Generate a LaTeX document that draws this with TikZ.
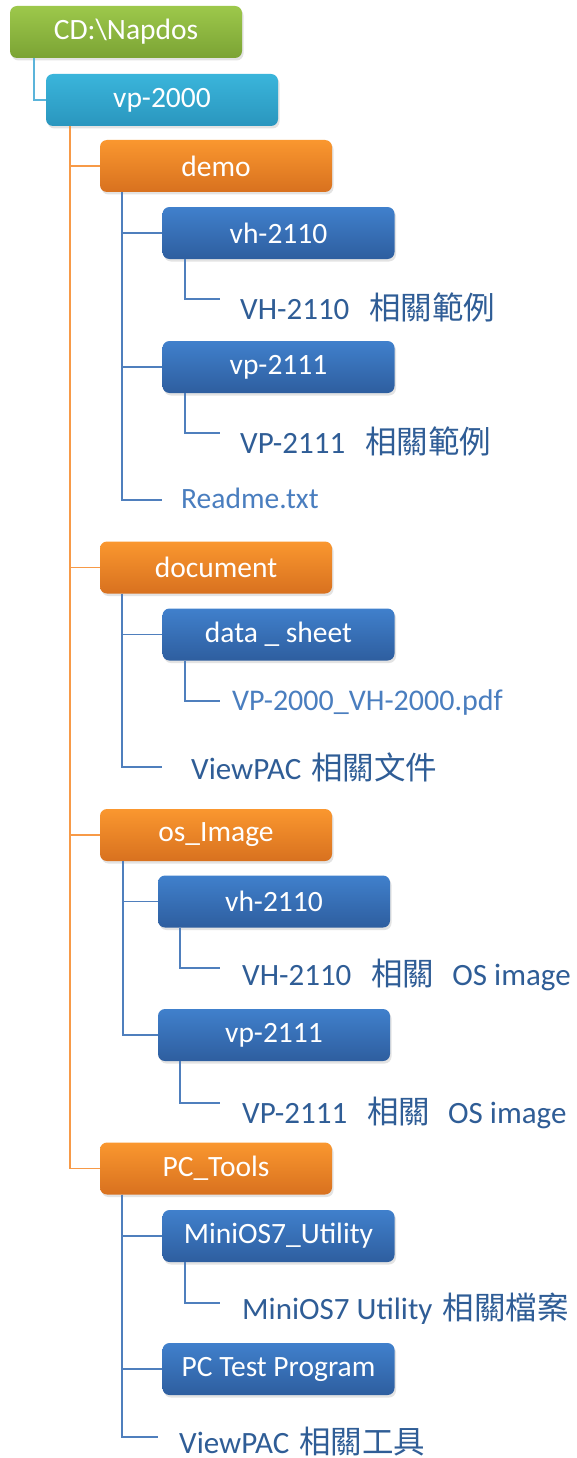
\documentclass[tikz,border=0pt]{standalone}
\usepackage{fontspec}
\setmainfont{Carlito}
\newfontfamily\cjk{Noto Sans CJK TC}
\newcommand\cj[1]{{\cjk\fontsize{31.5}{31.5}\selectfont #1}}
\usetikzlibrary{shadows}
\definecolor{gtop}{HTML}{9DC84B}
\definecolor{gbot}{HTML}{7BA334}
\definecolor{ctop}{HTML}{3AB5DB}
\definecolor{cbot}{HTML}{2A96BE}
\definecolor{otop}{HTML}{FA972F}
\definecolor{obot}{HTML}{D8711F}
\definecolor{btop}{HTML}{4080CC}
\definecolor{bbot}{HTML}{2E5E9F}
\definecolor{lbl}{HTML}{2F5D96}
\definecolor{lbllight}{HTML}{4A7EBF}
\definecolor{lorange}{HTML}{F79A47}
\definecolor{lblue}{HTML}{4F7FBD}
\definecolor{lcyan}{HTML}{5BB4DA}
\tikzset{
  box/.style={rounded corners=7pt, minimum width=232pt, minimum height=52pt,
    inner sep=0pt, text=white, font=\fontsize{29.5}{29.5}\selectfont,
    drop shadow={opacity=0.22, shadow xshift=1.5pt, shadow yshift=-2.5pt}},
  gbox/.style={box, top color=gtop, bottom color=gbot},
  cbox/.style={box, top color=ctop, bottom color=cbot},
  obox/.style={box, top color=otop, bottom color=obot},
  bbox/.style={box, top color=btop, bottom color=bbot},
  lab/.style={anchor=base west, inner sep=0pt, text=lbl, font=\fontsize{31}{31}\selectfont},
  lablight/.style={lab, text=lbllight},
  cline/.style={draw=lcyan, line width=1.8pt},
  oline/.style={draw=lorange, line width=1.8pt},
  bline/.style={draw=lblue, line width=1.8pt}
}
\begin{document}
\begin{tikzpicture}[x=1pt,y=-1pt]
\useasboundingbox (0,0) rectangle (576,1458);
\fill[white] (0,0) rectangle (576,1458);

% boxes
\node[gbox] (nap) at (126,32) {CD:\textbackslash Napdos};
\node[cbox] (vp) at (162,100) {vp-2000};
\node[obox] (demo) at (216,166) {demo};
\node[bbox] (vh1) at (278.5,233) {vh-2110};
\node[bbox] (vp1) at (278.5,367) {vp-2111};
\node[obox] (docu) at (216,567.5) {document};
\node[bbox] (ds) at (278.5,634.5) {data \_ sheet};
\node[obox] (os) at (216,835) {os\_Image};
\node[bbox] (vh2) at (274,901.5) {vh-2110};
\node[bbox] (vp2) at (274,1035) {vp-2111};
\node[obox] (pct) at (216,1168.5) {PC\_Tools};
\node[bbox] (mu) at (278.5,1236) {MiniOS7\_Utility};
\node[bbox] (pt) at (278.5,1369) {PC Test Program};

% labels
\node[lab] (t1) at (240,319) {VH-2110\hspace{20pt}\cj{相關範例}};
\node[lab] (t2) at (240,453) {VP-2111\hspace{20pt}\cj{相關範例}};
\node[lablight, font=\fontsize{29.5}{29.5}\selectfont] (rd) at (181,508) {Readme.txt};
\node[lablight, font=\fontsize{30}{30}\selectfont] (pdf) at (232,710) {VP-2000\_VH-2000.pdf};
\node[lab] (vdoc) at (191,779) {ViewPAC\hspace{10pt}\cj{相關文件}};
\node[lab] (t3) at (242,985) {VH-2110\hspace{20pt}\cj{相關}\hspace{18pt}OS image};
\node[lab] (t4) at (242,1123) {VP-2111\hspace{20pt}\cj{相關}\hspace{18pt}OS image};
\node[lab] (t5) at (242,1319) {MiniOS7 Utility\hspace{10pt}\cj{相關檔案}};
\node[lab] (vtool) at (179,1453) {ViewPAC\hspace{10pt}\cj{相關工具}};

% connectors
\draw[cline] ([xshift=24pt]nap.south west) |- (vp.west);
\draw[oline] ([xshift=24pt]vp.south west) |- (demo.west);
\draw[oline] ([xshift=24pt]vp.south west) |- (docu.west);
\draw[oline] ([xshift=24pt]vp.south west) |- (os.west);
\draw[oline] ([xshift=24pt]vp.south west) |- (pct.west);

\draw[bline] ([xshift=22.5pt]demo.south west) |- (vh1.west);
\draw[bline] ([xshift=22.5pt]demo.south west) |- (vp1.west);
\draw[bline] ([xshift=22.5pt]demo.south west) |- ([xshift=-19pt,yshift=8pt]rd.base west);
\draw[bline] ([xshift=23pt]vh1.south west) |- ([xshift=-20pt,yshift=20pt]t1.base west);
\draw[bline] ([xshift=23pt]vp1.south west) |- ([xshift=-20pt,yshift=20pt]t2.base west);

\draw[bline] ([xshift=22.5pt]docu.south west) |- (ds.west);
\draw[bline] ([xshift=22.5pt]docu.south west) |- ([xshift=-29pt,yshift=12pt]vdoc.base west);
\draw[bline] ([xshift=23pt]ds.south west) |- ([xshift=-12pt,yshift=9pt]pdf.base west);

\draw[bline] ([xshift=23pt]os.south west) |- (vh2.west);
\draw[bline] ([xshift=23pt]os.south west) |- (vp2.west);
\draw[bline] ([xshift=22pt]vh2.south west) |- ([xshift=-22pt,yshift=17pt]t3.base west);
\draw[bline] ([xshift=22pt]vp2.south west) |- ([xshift=-22pt,yshift=20pt]t4.base west);

\draw[bline] ([xshift=22.5pt]pct.south west) |- (mu.west);
\draw[bline] ([xshift=22.5pt]pct.south west) |- (pt.west);
\draw[bline] ([xshift=22.5pt]pct.south west) |- ([xshift=-21pt,yshift=16pt]vtool.base west);
\draw[bline] ([xshift=23pt]mu.south west) |- ([xshift=-22pt,yshift=16pt]t5.base west);
\end{tikzpicture}
\end{document}
